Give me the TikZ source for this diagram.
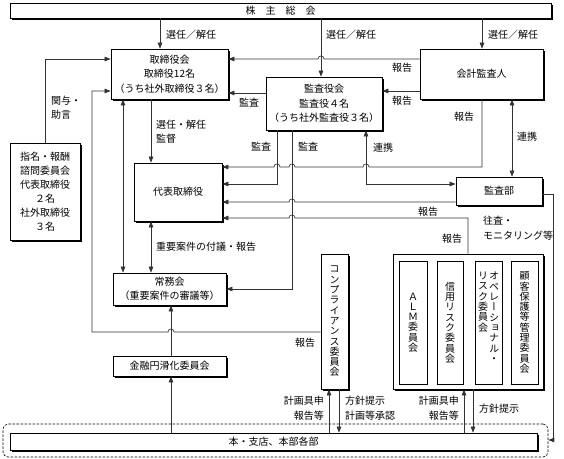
\documentclass[tikz,border=0pt]{standalone}
\usepackage{fontspec}
\setmainfont{Noto Sans CJK JP}
\newfontfamily\vjp[RawFeature=+vert]{Noto Sans CJK JP}
\usetikzlibrary{arrows.meta,shadows}
\begin{document}
\begin{tikzpicture}[x=1pt,y=-1pt,
  font=\fontsize{10}{14.5}\selectfont,
  box/.style={draw=black, line width=0.7pt, fill=white, align=center, inner sep=0pt,
    drop shadow={shadow xshift=2pt, shadow yshift=-2pt, fill=black, opacity=1}},
  ibox/.style={draw=black, line width=0.7pt, fill=white, inner sep=0pt},
  vtext/.style={font=\vjp\fontsize{10}{10.3}\selectfont, align=center, inner sep=0pt},
  lbl/.style={inner sep=0pt},
  ln/.style={line width=0.65pt, draw=black!80},
  arr/.style={ln, -{Triangle[length=6pt,width=4.5pt]}},
  darr/.style={ln, {Triangle[length=6pt,width=4.5pt]}-{Triangle[length=6pt,width=4.5pt]}}
]
\fill[white] (0,0) rectangle (564,458);
\useasboundingbox (0,0) rectangle (564,458);

% boxes
\node[box, minimum width=541pt, minimum height=15pt] (sh) at (280.5,10.5) {株　主　総　会};
\node[box, minimum width=117pt, minimum height=50pt] (tb) at (169.5,74) {取締役会\\取締役12名\\（うち社外取締役３名）};
\node[box, minimum width=116pt, minimum height=53pt] (kk) at (324,103.5) {監査役会\\監査役４名\\（うち社外監査役３名）};
\node[box, minimum width=123pt, minimum height=50pt] (ka) at (481.5,74) {会計監査人};
\node[box, minimum width=70pt, minimum height=97pt, font=\fontsize{10}{14}\selectfont] (sm) at (45,191.5) {指名・報酬\\諮問委員会\\代表取締役\\２名\\社外取締役\\３名};
\node[box, minimum width=88pt, minimum height=58pt] (dr) at (178,192) {代表取締役};
\node[box, minimum width=113pt, minimum height=32pt, font=\fontsize{10}{13.5}\selectfont] (jm) at (169.5,289) {常務会\\（重要案件の審議等）};
\node[box, minimum width=113pt, minimum height=20pt] (kn) at (169.5,366) {金融円滑化委員会};
\node[box, minimum width=86pt, minimum height=28pt] (kb) at (499,191) {監査部};
\node[box, minimum width=27pt, minimum height=135pt] (cp) at (334.5,321.5) {};
\node[vtext] (cpt) at (cp.center) {コ\\ン\\プ\\ラ\\イ\\ア\\ン\\ス\\委\\員\\会};
\node[box, minimum width=150pt, minimum height=135pt] (rg) at (468,321.5) {};
\node[ibox, minimum width=28pt, minimum height=123pt] (alm) at (413,322.5) {};
\node[vtext] (almt) at (alm.center) {Ａ\\Ｌ\\Ｍ\\委\\員\\会};
\node[ibox, minimum width=26pt, minimum height=123pt] (sy) at (450,322.5) {};
\node[vtext] (syt) at (sy.center) {信\\用\\リ\\ス\\ク\\委\\員\\会};
\node[ibox, minimum width=27pt, minimum height=123pt] (op) at (488.5,322.5) {};
\node[vtext, anchor=north] (opt1) at (494,272) {オ\\ペ\\レ\\ー\\シ\\ョ\\ナ\\ル\\・};
\node[vtext, anchor=north] (opt2) at (483,272) {リ\\ス\\ク\\委\\員\\会};
\node[ibox, minimum width=27pt, minimum height=123pt] (kh) at (524.5,322.5) {};
\node[vtext] (kht) at (kh.center) {顧\\客\\保\\護\\等\\管\\理\\委\\員\\会};
\node[draw=black, line width=0.6pt, dashed, dash pattern=on 2.5pt off 1.5pt, rounded corners=5pt,
  minimum width=545pt, minimum height=33pt, inner sep=0pt] (dz) at (275.5,440.5) {};
\node[box, minimum width=527pt, minimum height=17pt] (hs) at (273.5,441.5) {本・支店、本部各部};

% connectors
\draw[arr] (160,0 |- sh.south) -- (160,0 |- tb.north);
\draw[arr] (321,0 |- sh.south) -- (321,0 |- kk.north);
\draw[arr] (482,0 |- sh.south) -- (482,0 |- ka.north);
\draw[arr] (ka.west |- 0,59) -- (324,59) .. controls (324,55) and (318,55) .. (318,59) -- (tb.east |- 0,59);
\draw[arr] (ka.west |- 0,91) -- (kk.east |- 0,91);
\draw[arr] (kk.west |- 0,93) -- (tb.east |- 0,93);
\draw[arr] (sm.north) -- (sm.north |- 0,59) -- (tb.west |- 0,59);
\draw[arr] (cp.west |- 0,332) -- (174,332) .. controls (174,328) and (168,328) .. (168,332) -- (92,332) -- (92,91) -- (tb.west |- 0,91);
\draw[arr] (151,0 |- tb.south) -- (151,0 |- dr.north);
\draw[darr] (123,0 |- tb.south) -- (123,0 |- jm.north);
\draw[darr] (151,0 |- dr.south) -- (151,0 |- jm.north);
\draw[arr] (277,0 |- kk.south) -- (277,184) -- (dr.east |- 0,184);
\draw[arr] (292,0 |- kk.south) -- (292,289) -- (jm.east |- 0,289);
\draw[arr] (482,0 |- ka.south) -- (482,167)
  -- (369,167) .. controls (369,163) and (363,163) .. (363,167)
  -- (295,167) .. controls (295,163) and (289,163) .. (289,167)
  -- (280,167) .. controls (280,163) and (274,163) .. (274,167)
  -- (dr.east |- 0,167);
\draw[arr] (kb.west |- 0,202) -- (295,202) .. controls (295,198) and (289,198) .. (289,202) -- (dr.east |- 0,202);
\draw[arr] (468,0 |- rg.north) -- (468,218) -- (295,218) .. controls (295,214) and (289,214) .. (289,218) -- (dr.east |- 0,218);
\draw[darr] (366,0 |- kk.south) -- (366,184) -- (kb.west |- 0,184);
\draw[darr] (512,0 |- ka.south) -- (512,0 |- kb.north);
\draw[arr] (kb.east |- 0,194) -- (553,194) -- (553,440) -- (dz.east |- 0,440);
\draw[arr] (171,0 |- kn.north) -- (171,0 |- jm.south);
\draw[arr] (171,0 |- hs.north) -- (171,0 |- kn.south);
\draw[arr] (329,0 |- hs.north) -- (329,0 |- cp.south);
\draw[arr] (339,0 |- cp.south) -- (339,0 |- hs.north);
\draw[arr] (464,0 |- hs.north) -- (464,0 |- rg.south);
\draw[arr] (473,0 |- rg.south) -- (473,0 |- hs.north);

% labels
\node[lbl, anchor=west] (l1) at (166,35) {選任／解任};
\node[lbl, anchor=west] (l2) at (326,35) {選任／解任};
\node[lbl, anchor=west] (l3) at (488,35) {選任／解任};
\node[lbl] (l4) at (402,68) {報告};
\node[lbl] (l5) at (402,101) {報告};
\node[lbl] (l6) at (249,103) {監査};
\node[lbl, align=left, anchor=west] (l7) at (51,107.5) {関与・\\助言};
\node[lbl, align=left, anchor=west] (l8) at (156,131.5) {選任・解任\\監督};
\node[lbl, anchor=west] (l9) at (156,247) {重要案件の付議・報告};
\node[lbl] (l10) at (261,147) {監査};
\node[lbl] (l11) at (308,147) {監査};
\node[lbl] (l12) at (383,148) {連携};
\node[lbl] (l13) at (464,117) {報告};
\node[lbl] (l14) at (527,137) {連携};
\node[lbl] (l15) at (428,212) {報告};
\node[lbl] (l16) at (452,239) {報告};
\node[lbl, align=left, anchor=west] (l17) at (483,228) {往査・\\モニタリング等};
\node[lbl] (l18) at (305,343) {報告};
\node[lbl, align=right, anchor=east] (l19) at (324,408) {計画具申\\報告等};
\node[lbl, align=left, anchor=west] (l20) at (345,408) {方針提示\\計画等承認};
\node[lbl, align=right, anchor=east] (l21) at (459,408) {計画具申\\報告等};
\node[lbl, anchor=west] (l22) at (479,409) {方針提示};
\end{tikzpicture}
\end{document}
